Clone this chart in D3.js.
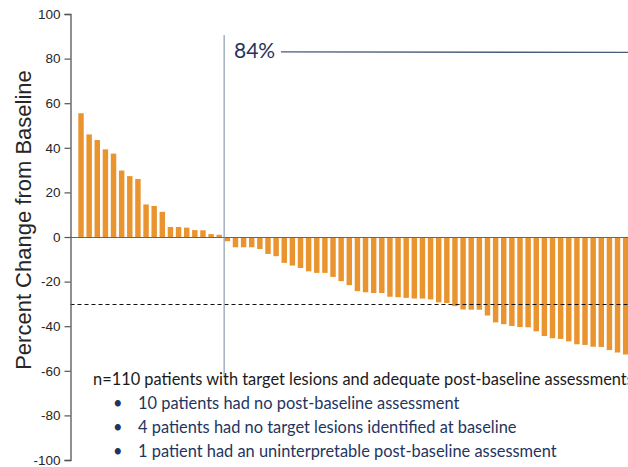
<!DOCTYPE html>
<html>
<head>
<meta charset="utf-8">
<script src="https://cdn.jsdelivr.net/npm/d3@7"></script>
<style>
  html, body { margin: 0; padding: 0; background: #fff; }
  svg { display: block; }
</style>
</head>
<body>
<svg id="chart" width="628" height="467"></svg>
<script>
// Best percent change in target lesion size, one bar per patient (sorted)
const positiveChange = [55.5, 46, 43.5, 39.3, 37.4, 29.8, 27.3, 26, 14.6, 13.9, 11.3,
  4.5, 4.5, 4.2, 3.1, 3.0, 1.3, 1.0];
const negativeChange = [-1.9, -4.6, -4.6, -4.6, -5.4, -7.6, -8.6, -11.6, -12.8, -13.9,
  -15.4, -16.1, -16.1, -17.9, -19.8, -21.6, -24.3, -24.8, -25.1, -25.1, -26.8, -27,
  -27.3, -27.6, -27.6, -28, -29.3, -29.6, -31, -32.5, -32.6, -32.6, -35.2, -38.3,
  -39.1, -39.9, -40.4, -40.5, -42.3, -44.4, -45.4, -45.7, -46.8, -48.1, -48.4, -49.2,
  -49.3, -50.7, -51.8, -52.7];
const yTicks = [100, 80, 60, 40, 20, 0, -20, -40, -60, -80, -100];
const thresholdValue = -30;
const reductionLabel = "84%";
const reductionLevel = 83;
const yTitle = "Percent Change from Baseline";
const noteHeader = "n=110 patients with target lesions and adequate post-baseline assessments";
const noteBullets = [
  "10 patients had no post-baseline assessment",
  "4 patients had no target lesions identified at baseline",
  "1 patient had an uninterpretable post-baseline assessment"
];

const values = positiveChange.concat(negativeChange);
const svg = d3.select("#chart");

const y = d3.scaleLinear().domain([-100, 100]).range([460, 14]);
const x = d3.scaleBand()
  .domain(d3.range(values.length))
  .range([78.3, 628.4])
  .paddingInner(0.33)
  .paddingOuter(0);

const axisX = 70.5;

// bars
svg.append("g")
  .selectAll("rect")
  .data(values)
  .join("rect")
  .attr("x", (d, i) => x(i))
  .attr("width", x.bandwidth())
  .attr("y", d => y(Math.max(0, d)))
  .attr("height", d => Math.abs(y(d) - y(0)))
  .attr("fill", "#EA9430");

// zero line
svg.append("line")
  .attr("x1", axisX).attr("x2", 628)
  .attr("y1", y(0) + 0.5).attr("y2", y(0) + 0.5)
  .attr("stroke", "#6e6558").attr("stroke-width", 1.2);

// -30% response threshold
svg.append("line")
  .attr("x1", axisX).attr("x2", 628)
  .attr("y1", Math.round(y(thresholdValue)) + 0.5)
  .attr("y2", Math.round(y(thresholdValue)) + 0.5)
  .attr("stroke", "#111").attr("stroke-width", 1.2)
  .attr("stroke-dasharray", "4,3");

// y axis (plain hyphen minus signs)
const yAxis = d3.axisLeft(y)
  .tickValues(yTicks)
  .tickFormat(d => String(d))
  .tickSize(6)
  .tickPadding(4);
const gy = svg.append("g")
  .attr("transform", `translate(${axisX},0)`)
  .call(yAxis);
gy.select(".domain").attr("stroke", "#555").attr("stroke-width", 1.3);
gy.selectAll(".tick line").attr("stroke", "#555").attr("stroke-width", 1.2);
gy.selectAll(".tick text")
  .attr("font-family", "Liberation Sans, Arial, sans-serif")
  .attr("font-size", 13.5)
  .attr("fill", "#262626");

// y title
svg.append("text")
  .attr("transform", `translate(31,${220}) rotate(-90)`)
  .attr("text-anchor", "middle")
  .attr("font-family", "Liberation Sans, Arial, sans-serif")
  .attr("font-size", 22)
  .attr("fill", "#262626")
  .text(yTitle);

// divider between growth and shrinkage
const divX = x(positiveChange.length) - 0.5;
svg.append("line")
  .attr("x1", divX).attr("x2", divX)
  .attr("y1", 35).attr("y2", 376)
  .attr("stroke", "#8293a8").attr("stroke-width", 1.1);

// 84% bracket
svg.append("text")
  .attr("x", 234).attr("y", 58)
  .attr("font-family", "Lato, Open Sans, sans-serif")
  .attr("font-size", 21)
  .attr("fill", "#1f3560")
  .text(reductionLabel);
svg.append("line")
  .attr("x1", 281).attr("x2", 628)
  .attr("y1", y(reductionLevel)).attr("y2", y(reductionLevel) + 0.5)
  .attr("stroke", "#4a5a7c").attr("stroke-width", 1.3);

// footnote
const note = svg.append("g")
  .attr("font-family", "Lato, Open Sans, sans-serif")
  .attr("font-size", 16.4);
note.append("text")
  .attr("x", 93).attr("y", 385)
  .attr("fill", "#1a1a1a")
  .text(noteHeader);
noteBullets.forEach((t, i) => {
  const by = 409 + i * 24;
  note.append("text")
    .attr("x", 113).attr("y", by)
    .attr("fill", "#1f3560")
    .text("\u2022");
  note.append("text")
    .attr("x", 138).attr("y", by)
    .attr("fill", "#1f3560")
    .text(t);
});
</script>
</body>
</html>
